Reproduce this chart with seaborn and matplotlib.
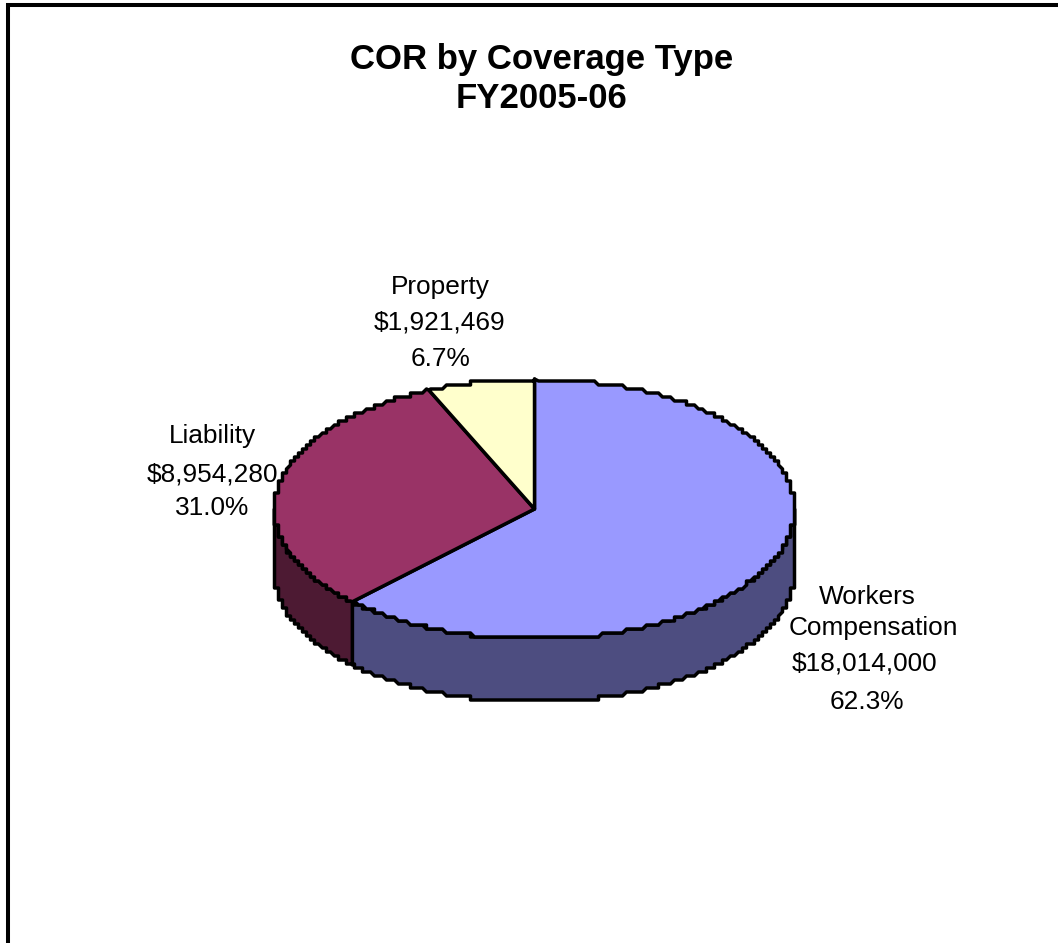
import numpy as np
import matplotlib
matplotlib.use("Agg")
import matplotlib.pyplot as plt
from matplotlib.lines import Line2D
from matplotlib.path import Path
from matplotlib.patches import Polygon
import seaborn as sns

# Chart data
coverage = ["Workers Compensation", "Liability", "Property"]
premiums = [18014000, 8954280, 1921469]
share_labels = ["62.3%", "31.0%", "6.7%"]
slice_colors = ["#9999FF", "#993366", "#FFFFCC"]
side_colors = ["#4D4D80", "#4D1A33", "#808066"]
title_lines = ["COR by Coverage Type", "FY2005-06"]

WIDTH, HEIGHT = 1058, 943
CX, CY, RX, RY = 534.5, 509.0, 260.0, 130.0
DEPTH = 63.0 / RY
GRID_X, GRID_Y = 4.0 / RX, 4.0 / RY
EDGE = 2.5

sns.set_theme(style="white")
plt.rcParams["font.family"] = ["Liberation Sans", "DejaVu Sans"]

fig = plt.figure(figsize=(WIDTH / 100, HEIGHT / 100), dpi=100, facecolor="white")
ax = fig.add_axes([0, 0, 1, 1])


def rim(theta1, theta2, drop=0.0):
    """Points along the pie rim, snapped to a fine lattice for a slightly stepped outline."""
    t = np.radians(np.linspace(theta1, theta2, 300))
    x, y = np.cos(t), np.sin(t)
    sx = np.round(x / GRID_X) * GRID_X
    sy = np.round(y / GRID_Y) * GRID_Y
    sx[0], sy[0], sx[-1], sy[-1] = x[0], y[0], x[-1], y[-1]
    pts = np.column_stack([sx, sy - drop])
    keep = np.r_[True, np.any(np.diff(pts, axis=0) != 0, axis=1)]
    return pts[keep]


wedges, _ = ax.pie(
    premiums,
    colors=slice_colors,
    startangle=90,
    counterclock=False,
    wedgeprops=dict(edgecolor="black", linewidth=EDGE, joinstyle="round"),
)

for wedge, side in zip(wedges, side_colors):
    # Give the top face its stepped rim
    arc = rim(wedge.theta1, wedge.theta2)
    verts = np.vstack([[0.0, 0.0], arc, [0.0, 0.0]])
    wedge._path = Path(verts, closed=True)
    wedge.set_zorder(3)

    # Front wall of the disc, only where the rim faces the viewer
    low, high = max(wedge.theta1, -180.0), min(wedge.theta2, 0.0)
    if high > low:
        wall = np.vstack([rim(low, high), rim(low, high, DEPTH)[::-1]])
        ax.add_patch(Polygon(wall, closed=True, facecolor=side, edgecolor="black",
                             linewidth=EDGE, joinstyle="round", zorder=2))

# One data unit spans a semi-axis of the ellipse
ax.set_aspect("auto")
ax.set_xlim(-CX / RX, (WIDTH - CX) / RX)
ax.set_ylim((CY - HEIGHT) / RY, CY / RY)
ax.axis("off")


def put(x, y, text, **kw):
    fig.text(x / WIDTH, 1 - y / HEIGHT, text, ha="center", va="center",
             color="black", **kw)


for y, line in zip([60, 99], title_lines):
    put(542, y, line, fontsize=25, fontweight="bold")

money = [f"${v:,}" for v in premiums]
put(867, 597, "Workers", fontsize=18.9)
put(873, 628, "Compensation", fontsize=18.9)
put(865, 664, money[0], fontsize=18.9)
put(867, 702, share_labels[0], fontsize=18.9)

put(212, 436, coverage[1], fontsize=18.9)
put(212, 474, money[1], fontsize=18.9)
put(212, 508, share_labels[1], fontsize=18.9)

put(440, 287, coverage[2], fontsize=18.9)
put(440, 322, money[2], fontsize=18.9)
put(440, 359, share_labels[2], fontsize=18.9)

# Frame: the top and left rules run off the canvas edge
frame_x = [1.0, 8 / WIDTH, 8 / WIDTH]
frame_y = [1 - 5 / HEIGHT, 1 - 5 / HEIGHT, 0]
fig.add_artist(Line2D(frame_x, frame_y, transform=fig.transFigure, color="black",
                      linewidth=2.9, solid_joinstyle="miter"))

fig.savefig("out.png", dpi=100, facecolor="white")
